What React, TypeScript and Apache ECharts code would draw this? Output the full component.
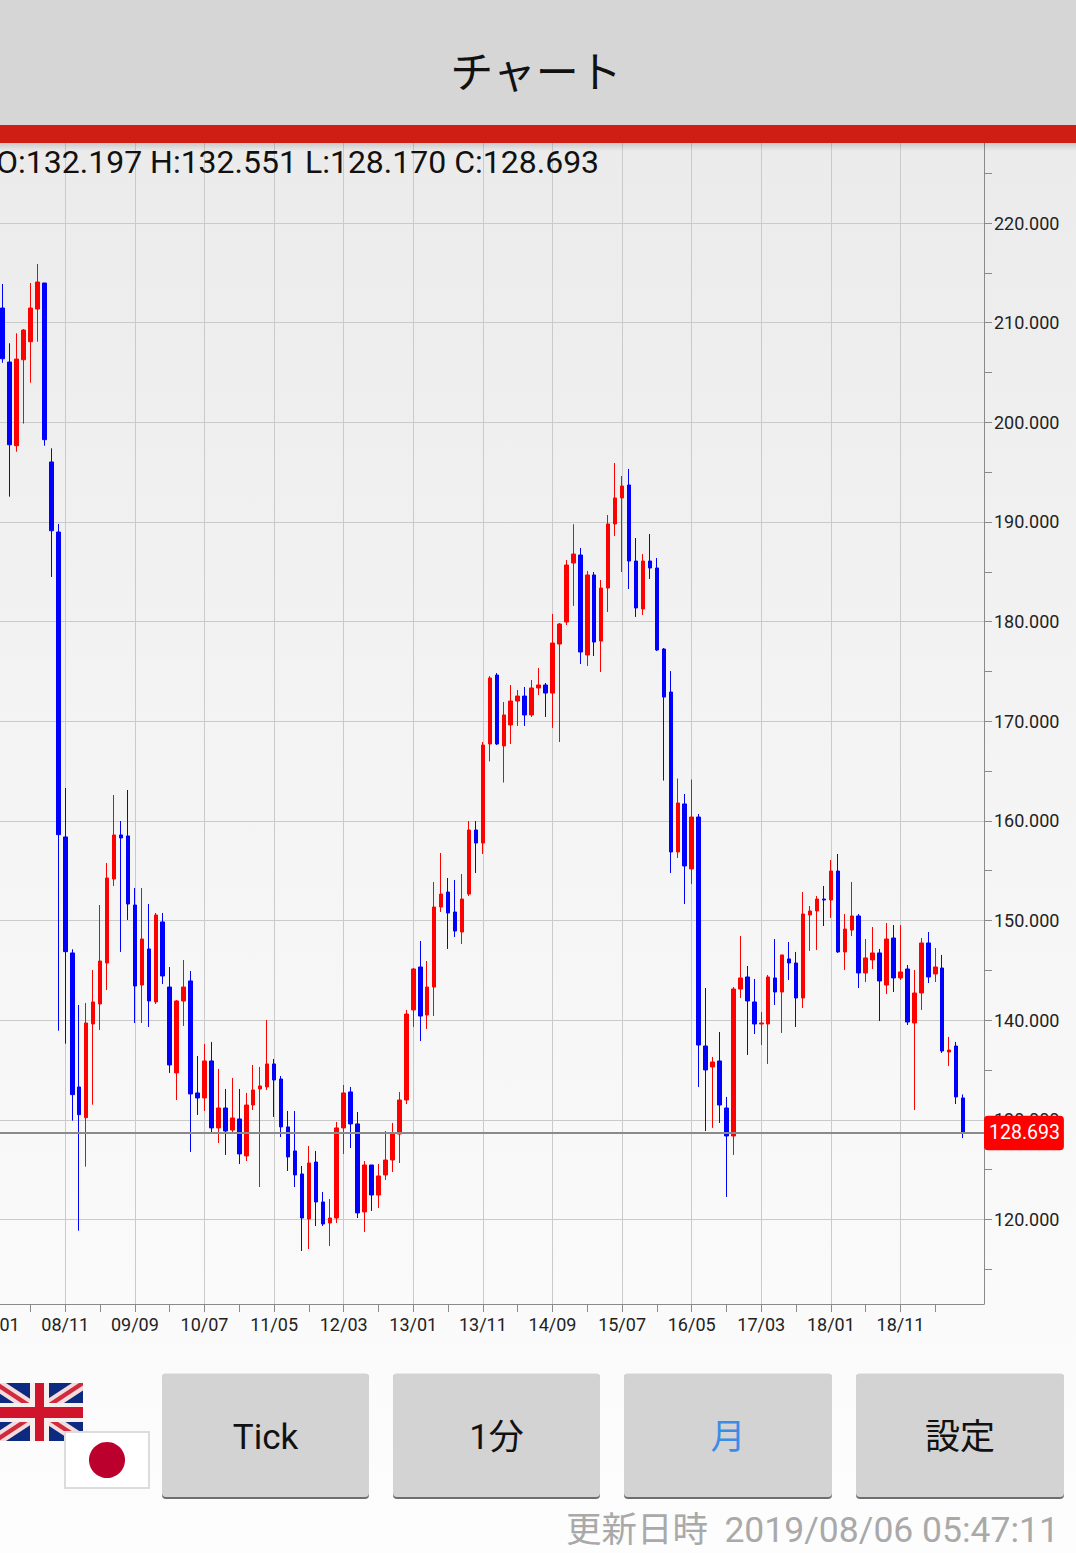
import React, { useEffect, useRef } from "react";
import * as echarts from "echarts";

// [open, close, low, high] by calendar year
const y2008 = [
  [211.47,206.38,205.98,213.88],[206.05,197.75,192.54,207.93],[197.65,206.35,197.05,208.93],[206.28,209.26,199.87,209.36],
  [208.09,211.47,203.98,213.98],[211.37,214.08,208.09,215.89],[213.98,198.26,197.65,213.98],[196.02,189.12,184.48,197.39],
  [188.99,158.62,138.95,189.8],[158.39,146.88,137.64,163.3],[146.75,132.53,129.92,147.12],
];
const y2009 = [
  [133.3,130.52,118.88,141.53],[130.22,139.72,125.3,141.73],[139.62,141.83,131.52,145.04],[141.63,145.94,139.02,151.56],
  [145.74,154.27,143.03,155.78],[154.17,158.59,153.47,162.6],[158.59,158.29,146.85,159.99],[158.49,151.66,150.06,163.1],
  [151.56,143.43,139.72,153.27],[143.53,148.15,139.72,153.27],[147.15,141.93,139.32,151.66],[141.83,150.56,141.63,150.76],
];
const y2010 = [
  [149.86,144.44,143.63,150.76],[143.33,135.51,134.71,145.34],[134.71,141.93,131.99,142.03],[141.93,143.33,139.42,146.04],
  [143.94,132.6,126.78,144.94],[132.7,132.2,130.49,136.41],[132.2,135.91,130.89,137.61],[135.91,129.19,128.78,137.82],
  [129.19,131.19,127.68,135.11],[131.19,128.88,126.48,133.1],[128.98,130.19,128.78,134.2],[130.09,126.58,125.57,133.1],
];
const y2011 = [
  [126.38,131.49,125.87,132.7],[131.49,133.0,130.99,135.51],[133.1,133.4,123.26,135.31],[133.3,135.61,133.0,140.02],
  [135.61,134.0,130.29,136.11],[134.1,129.29,128.28,134.4],[129.29,126.28,124.87,130.89],[126.88,124.47,123.26,130.89],
  [124.57,120.15,116.84,125.37],[120.05,125.67,117.04,127.38],[125.77,121.76,119.35,126.88],[121.76,119.55,119.35,122.76],
];
const y2012 = [
  [119.65,120.15,117.34,122.06],[120.15,129.19,119.65,129.79],[129.19,132.7,126.58,133.5],[132.8,129.59,127.18,133.3],
  [129.59,120.66,120.15,130.79],[120.76,125.47,118.75,125.87],[125.47,122.46,120.86,125.47],[122.46,124.37,121.16,125.57],
  [124.47,125.97,123.97,128.88],[125.97,128.58,124.77,129.69],[128.58,131.99,125.67,132.8],[131.99,140.62,131.59,141.03],
];
const y2013 = [
  [141.03,145.14,139.32,145.24],[145.34,140.42,137.91,147.95],[140.52,143.33,139.12,145.94],[143.33,151.36,140.42,153.87],
  [151.36,152.66,150.86,156.78],[152.86,150.76,147.15,154.27],[150.86,148.95,148.35,154.07],[148.85,152.16,147.65,154.67],
  [152.66,159.09,152.46,159.99],[159.09,157.78,154.77,159.99],[157.78,167.62,156.68,167.92],[167.72,174.34,165.97,174.54],
];
const y2014 = [
  [174.64,167.72,167.62,174.84],[167.52,170.63,163.85,171.93],[169.63,172.03,167.72,173.64],[172.03,172.53,169.53,173.14],
  [172.53,170.63,169.53,173.44],[170.63,173.34,170.43,174.14],[173.34,173.64,172.63,175.35],[173.64,172.83,170.43,173.84],
  [172.83,177.85,169.33,180.77],[177.75,179.76,167.92,179.86],[179.96,185.68,179.66,186.18],[185.88,186.78,181.57,189.77],
];
const y2015 = [
  [186.68,176.95,175.75,187.39],[176.65,184.68,175.55,185.08],[184.68,177.95,176.55,184.98],[178.05,183.37,174.94,184.18],
  [183.37,189.8,180.97,190.7],[189.8,192.41,188.59,195.92],[192.41,193.61,184.98,194.61],[193.71,186.08,183.27,195.32],
  [186.08,181.37,180.47,188.39],[181.27,186.08,180.67,186.78],[186.08,185.38,184.28,188.79],[185.38,177.15,177.05,186.38],
];
const y2016 = [
  [177.25,172.43,164.05,177.35],[172.93,156.88,154.77,175.04],[156.88,161.8,156.28,164.25],[161.7,155.48,151.66,162.7],
  [155.18,160.39,153.67,164.15],[160.39,137.51,133.3,160.69],[137.41,135.01,128.88,143.23],[135.31,135.81,129.19,136.31],
  [135.91,131.49,129.69,138.82],[131.19,128.38,122.26,132.3],[128.38,143.13,126.48,143.33],[143.13,144.24,142.23,148.45],
];
const y2017 = [
  [144.34,141.93,136.51,145.44],[141.83,139.62,138.62,144.14],[139.62,139.72,137.51,140.82],[139.62,144.34,135.61,144.54],
  [144.24,142.83,141.53,148.15],[142.83,146.55,138.72,146.55],[146.15,145.74,144.04,147.85],[145.74,142.23,139.32,146.85],
  [142.23,150.66,141.23,152.86],[150.56,150.96,146.95,151.46],[150.96,152.16,147.05,152.46],[152.16,152.06,149.45,153.47],
];
const y2018 = [
  [152.06,154.97,150.26,156.08],[154.97,146.85,146.75,156.68],[146.85,149.15,145.04,150.66],[149.05,150.46,148.45,153.87],
  [150.46,144.74,143.23,150.66],[144.74,146.25,143.83,148.15],[146.05,146.75,145.14,149.35],[146.75,143.94,139.92,147.15],
  [143.53,148.15,142.63,149.75],[148.25,144.24,142.83,149.55],[144.24,144.84,144.04,149.55],[145.14,139.82,139.52,145.54],
];
const y2019 = [
  [139.72,142.73,130.99,145.04],[142.73,147.75,141.03,148.25],[147.75,144.34,143.73,148.85],[144.64,145.34,143.83,147.25],
  [145.24,136.91,136.71,146.55],[136.81,137.01,135.41,138.32],[137.41,132.3,131.59,137.82],[132.197,128.693,128.17,132.551],
];

const yearsList = [8, 9, 10, 11, 12, 13, 14, 15, 16, 17, 18, 19];
const monthsList = ["01", "02", "03", "04", "05", "06", "07", "08", "09", "10", "11", "12"];
const categories: string[] = [];
yearsList.forEach((y) => monthsList.forEach((m) => categories.push(`${String(y).padStart(2, "0")}/${m}`)));
categories.length = 143;

const candles: any[] = [
  ["-", "-", "-", "-"],
  ...y2008, ...y2009, ...y2010, ...y2011, ...y2012, ...y2013, ...y2014, ...y2015, ...y2016, ...y2017, ...y2018, ...y2019,
];

const labelTicks = [120, 130, 140, 150, 160, 170, 180, 190, 200, 210, 220];
const allTicks = [115, 120, 125, 130, 135, 140, 145, 150, 155, 160, 165, 170, 175, 180, 185, 190, 195, 200, 205, 210, 215, 220, 225];
const lastClose = 128.693;
const titleText = "チャート";
const ohlcText = "O:132.197 H:132.551 L:128.170 C:128.693";
const updatedLabel = "更新日時";
const updatedTime = "2019/08/06 05:47:11";
const buttons = [
  { label: "Tick", x: 162, w: 207, color: "#111111" },
  { label: "1分", x: 393, w: 207, color: "#111111" },
  { label: "月", x: 624, w: 208, color: "#3c8ce7" },
  { label: "設定", x: 856, w: 208, color: "#111111" },
];

const FONT = 'Roboto, "Noto Sans CJK JP", sans-serif';

function band(x0: number, y0: number, x1: number, y1: number, a: number, b: number, fill: string, flip = false) {
  const pts = flip
    ? [[x0, y1], [x0 + a, y1], [x1, y0 + b], [x1, y0], [x1 - a, y0], [x0, y1 - b]]
    : [[x0, y0], [x0 + a, y0], [x1, y1 - b], [x1, y1], [x1 - a, y1], [x0, y0 + b]];
  return { type: "polygon", z: 10, shape: { points: pts }, style: { fill } };
}

function buildGraphics() {
  const out: any[] = [
    { type: "rect", z: 20, shape: { x: 0, y: 0, width: 1076, height: 125 }, style: { fill: "#d6d6d6" } },
    { type: "rect", z: 21, shape: { x: 0, y: 125, width: 1076, height: 18 }, style: { fill: "#cf1f14" } },
    {
      type: "rect", z: 20, shape: { x: 0, y: 143, width: 1076, height: 8 },
      style: { fill: new echarts.graphic.LinearGradient(0, 0, 0, 1, [
        { offset: 0, color: "rgba(0,0,0,0.14)" }, { offset: 1, color: "rgba(0,0,0,0)" },
      ]) },
    },
    { type: "text", z: 22, x: 536, y: 69, style: { text: titleText, fill: "#111", font: `43px "Noto Sans CJK JP", sans-serif`, textAlign: "center", textVerticalAlign: "middle" } },
    { type: "text", z: 22, x: -4, y: 162, style: { text: ohlcText, fill: "#111", font: `32px ${FONT}`, textAlign: "left", textVerticalAlign: "middle" } },
  ];
  // UK flag
  const fx0 = -5, fx1 = 83, fy0 = 1383, fy1 = 1441;
  out.push({ type: "rect", z: 10, shape: { x: fx0, y: fy0, width: fx1 - fx0, height: fy1 - fy0 }, style: { fill: "#0b2a80" } });
  out.push(band(fx0, fy0, fx1, fy1, 11, 7.5, "#f4dcdc"));
  out.push(band(fx0, fy0, fx1, fy1, 11, 7.5, "#f4dcdc", true));
  out.push(band(fx0, fy0, fx1, fy1, 4, 2.6, "#cf2a3e"));
  out.push(band(fx0, fy0, fx1, fy1, 4, 2.6, "#cf2a3e", true));
  out.push({ type: "rect", z: 10, shape: { x: 30, y: fy0, width: 19, height: 58 }, style: { fill: "#f7eeee" } });
  out.push({ type: "rect", z: 10, shape: { x: fx0, y: 1403, width: 88, height: 19 }, style: { fill: "#f7eeee" } });
  out.push({ type: "rect", z: 10, shape: { x: 35, y: fy0, width: 9, height: 58 }, style: { fill: "#cf142b" } });
  out.push({ type: "rect", z: 10, shape: { x: fx0, y: 1407, width: 88, height: 11 }, style: { fill: "#cf142b" } });
  // Japan flag
  out.push({ type: "rect", z: 11, shape: { x: 65, y: 1432, width: 84, height: 56 }, style: { fill: "#ffffff", stroke: "#dcdcdc", lineWidth: 2 } });
  out.push({ type: "circle", z: 11, shape: { cx: 107, cy: 1460, r: 18 }, style: { fill: "#bc002d" } });
  // buttons
  buttons.forEach((b) => {
    out.push({ type: "rect", z: 10, shape: { x: b.x, y: 1374, width: b.w, height: 125, r: 4 }, style: { fill: "#6e6e6e" } });
    out.push({ type: "rect", z: 11, shape: { x: b.x, y: 1373.5, width: b.w, height: 123.5, r: 4 }, style: { fill: "#d3d3d3" } });
    out.push({ type: "text", z: 12, x: b.x + b.w / 2, y: 1437, style: { text: b.label, fill: b.color, font: `35px ${FONT}`, textAlign: "center", textVerticalAlign: "middle" } });
  });
  out.push({ type: "text", z: 12, x: 566, y: 1530, style: { text: updatedLabel, fill: "#a9a9a9", font: `35.5px ${FONT}`, textAlign: "left", textVerticalAlign: "middle" } });
  out.push({ type: "text", z: 12, x: 1059, y: 1530, style: { text: updatedTime, fill: "#a9a9a9", font: `35.5px ${FONT}`, textAlign: "right", textVerticalAlign: "middle" } });
  return out;
}

export default function App() {
  const ref = useRef<HTMLDivElement>(null);
  useEffect(() => {
    document.documentElement.style.margin = "0";
    document.body.style.margin = "0";
    document.body.style.overflow = "hidden";
    const chart = echarts.init(ref.current!, undefined, { renderer: "svg" });
    chart.setOption({
      animation: false,
      backgroundColor: new echarts.graphic.LinearGradient(0, 0, 0, 1, [
        { offset: 0, color: "#e9e9e9" },
        { offset: 0.5, color: "#f4f4f4" },
        { offset: 1, color: "#fdfdfd" },
      ]),
      textStyle: { fontFamily: FONT },
      grid: { left: -4.3, top: 143, width: 988.3, height: 1161, containLabel: false, outerBoundsMode: "none" },
      xAxis: {
        type: "category",
        data: categories,
        boundaryGap: false,
        axisLine: { lineStyle: { color: "#8a8a8a", width: 1 } },
        axisTick: { alignWithLabel: true, length: 8, lineStyle: { color: "#8a8a8a" }, interval: (i: number) => i % 5 === 0 && i <= 135 },
        axisLabel: { color: "#222", fontSize: 18, margin: 11, showMinLabel: true, hideOverlap: false, interval: (i: number) => i % 10 === 0 && i <= 130 },
        splitLine: { show: true, lineStyle: { color: "#cacaca", width: 1 }, interval: (i: number) => i % 10 === 0 && i > 0 && i <= 130 },
      },
      yAxis: [
        {
          type: "value", position: "right", min: 111.52, max: 228.03, scale: true,
          axisLine: { show: true, lineStyle: { color: "#8a8a8a", width: 1 } },
          axisTick: { show: true, length: 8, lineStyle: { color: "#8a8a8a" }, customValues: allTicks },
          axisLabel: { show: false },
          splitLine: { show: false },
        },
        {
          type: "value", position: "right", min: 111.52, max: 228.03, scale: true,
          axisLine: { show: false },
          axisTick: { show: false, customValues: labelTicks },
          axisLabel: { show: true, color: "#222", fontSize: 18, margin: 10, lineHeight: 21, customValues: labelTicks, formatter: (v: number) => v.toFixed(3) },
          splitLine: { show: true, lineStyle: { color: "#cacaca", width: 1 } },
        },
      ],
      series: [
        {
          type: "candlestick",
          data: candles,
          barWidth: 4,
          itemStyle: { color: "#ff0000", color0: "#0000ff", borderColor: "#ff0000", borderColor0: "#0000ff", borderWidth: 1 },
          markLine: {
            silent: true,
            symbol: "none",
            animation: false,
            lineStyle: { color: "#8a8a8a", width: 2, type: "solid" },
            label: {
              show: true, position: "end", distance: 0, formatter: () => lastClose.toFixed(3),
              backgroundColor: "#ff0000", color: "#ffffff", fontSize: 19.5, borderRadius: 4, padding: [9, 4, 6, 5],
            },
            data: [{ yAxis: lastClose }],
          },
        },
      ],
      graphic: buildGraphics(),
    });
    return () => chart.dispose();
  }, []);
  return <div ref={ref} style={{ width: 1076, height: 1553 }} />;
}
